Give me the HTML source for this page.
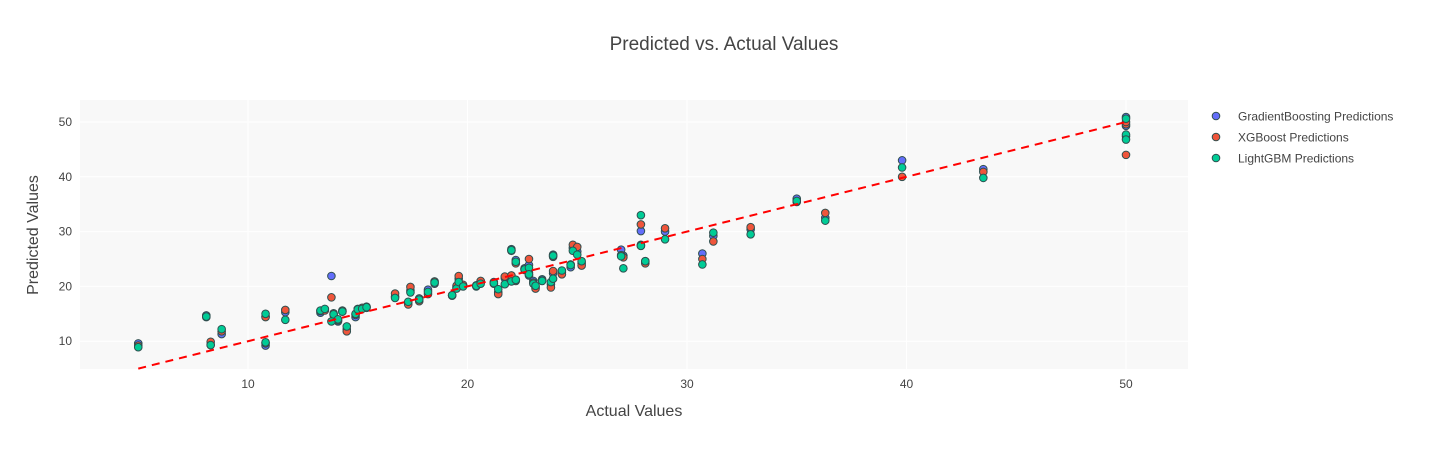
<!DOCTYPE html>
<html><head><meta charset="utf-8"><style>
body{margin:0;background:#fff;font-family:"Liberation Sans",sans-serif;}
svg text{font-family:"Liberation Sans",sans-serif;fill:#444;}
</style></head><body>
<svg id="chart" width="1448" height="450" xmlns="http://www.w3.org/2000/svg">
<rect width="1448" height="450" fill="#fff"/>
<text x="724" y="50" font-size="19" text-anchor="middle">Predicted vs. Actual Values</text>
<rect x="80" y="100" width="1108" height="269" fill="#f8f8f8"/>
<g id="grid"></g><g id="ticks"></g><g id="marks"></g>
<text x="634" y="416" font-size="16" text-anchor="middle">Actual Values</text>
<text x="38" y="235" font-size="16" text-anchor="middle" transform="rotate(-90 38 235)">Predicted Values</text>
<g id="legend"></g>
</svg>
<script>
const actual = [5.0,8.1,8.3,8.8,10.8,10.8,11.7,13.3,13.5,13.8,13.9,14.1,14.3,14.5,14.9,15.0,15.2,15.4,16.7,17.3,17.4,17.8,18.2,18.5,19.3,19.5,19.6,19.8,20.4,20.6,21.2,21.4,21.7,22.0,22.0,22.2,22.2,22.6,22.8,22.8,23.0,23.1,23.4,23.8,23.9,23.9,24.3,24.7,24.8,25.0,25.2,27.0,27.1,27.9,27.9,28.1,29.0,30.7,31.2,32.9,35.0,36.3,39.8,43.5,50,50,50];
const gbPred = [9.6,14.7,9.3,11.3,9.2,14.5,15.3,15.2,15.8,21.9,14.8,13.6,15.4,12.2,14.4,15.9,16.0,16.3,18.2,17.1,19.3,17.8,19.4,20.5,18.4,19.8,21.4,20.1,20.2,20.8,20.8,18.9,21.5,26.8,21.8,24.8,21.2,23.3,23.9,22.0,21.0,19.9,21.3,20.4,25.8,22.4,22.6,23.5,27.0,26.4,24.2,26.7,25.6,30.1,27.6,24.6,30.0,26.0,29.2,30.4,36.0,32.5,43.0,41.4,50.9,47.4,49.3];
const xgbPred = [9.2,14.4,9.9,11.8,9.6,14.4,15.7,15.5,15.6,18.0,15.1,13.8,15.6,11.8,14.8,15.6,16.1,16.1,18.7,16.7,19.9,17.3,18.6,20.9,18.3,20.1,21.9,20.3,20.0,21.0,20.5,18.6,21.8,26.5,22.0,24.2,21.0,23.0,25.0,22.5,20.7,19.6,21.1,19.8,25.4,22.8,22.2,24.0,27.6,27.2,23.8,25.7,25.3,31.3,27.4,24.2,30.6,25.0,28.2,30.8,35.4,33.4,40.0,40.9,49.6,44.0,50.0];
const lgbPred = [8.9,14.5,9.3,12.2,9.8,15.0,13.9,15.6,15.9,13.6,14.9,14.0,15.4,12.7,15.0,15.8,15.9,16.2,17.9,17.2,18.9,17.6,19.0,20.7,18.4,19.6,20.8,20.0,20.1,20.5,20.6,19.5,20.4,26.6,20.9,24.5,21.2,23.1,23.4,22.2,20.5,20.1,21.0,20.8,25.6,21.4,22.9,23.9,26.5,25.8,24.6,25.5,23.3,33.0,27.4,24.6,28.6,24.0,29.8,29.5,35.6,32.0,41.7,39.8,50.6,47.7,46.8];
const seriesNames = ["GradientBoosting Predictions","XGBoost Predictions","LightGBM Predictions"];
const xTicks = [10,20,30,40,50];
const yTicks = [10,20,30,40,50];
const lineX = [5,50];

const NS="http://www.w3.org/2000/svg";
const X = v => 28.5 + v*21.95;
const Y = v => 396 - v*5.48;
function mk(tag, attrs, parent){const e=document.createElementNS(NS,tag);for(const k in attrs)e.setAttribute(k,attrs[k]);parent.appendChild(e);return e;}
const grid=document.getElementById('grid'), ticks=document.getElementById('ticks'), marks=document.getElementById('marks'), legend=document.getElementById('legend');
xTicks.forEach(t=>{
  const l=mk('line',{x1:X(t),x2:X(t),y1:100,y2:369,stroke:'#fff','stroke-width':1},grid);
  
  
  const tx=mk('text',{x:X(t),y:388,'font-size':12,'text-anchor':'middle'},ticks);tx.textContent=t;
  
  
});
yTicks.forEach(t=>{
  const l=mk('line',{x1:80,x2:1188,y1:Y(t),y2:Y(t),stroke:'#fff','stroke-width':1},grid);
  
  
  const tx=mk('text',{x:72,y:Y(t)+4,'font-size':12,'text-anchor':'end'},ticks);tx.textContent=t;
  
  
});
const colors=['#636efa','#EF553B','#00cc96'];
[gbPred,xgbPred,lgbPred].forEach((s,si)=>{
  s.forEach((v,i)=>{
    const c=mk('circle',{cx:X(actual[i]),cy:Y(v),r:3.8,fill:colors[si],stroke:'#2f4f4f','stroke-width':1},marks);
    
    
  });
});
const ln=mk('line',{x1:X(lineX[0]),y1:Y(lineX[0]),x2:X(lineX[1]),y2:Y(lineX[1]),stroke:'#ff0000','stroke-width':2,'stroke-dasharray':'8 6'},marks);


seriesNames.forEach((n,i)=>{
  const y=116+i*21;
  const c=mk('circle',{cx:1216,cy:y,r:3.8,fill:colors[i],stroke:'#2f4f4f','stroke-width':1},legend);
  
  
  const t=mk('text',{x:1238,y:y+4.5,'font-size':12},legend);t.textContent=n;
  
  
});
</script>
</body></html>
